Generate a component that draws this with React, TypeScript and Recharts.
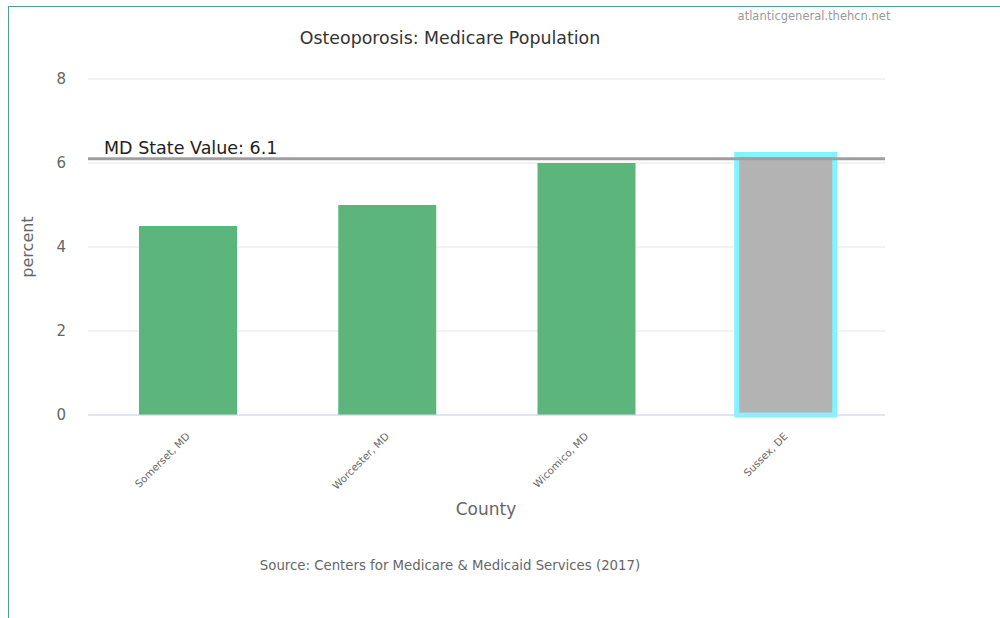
import React from 'react';
import { BarChart, Bar, XAxis, YAxis, CartesianGrid, ReferenceLine, Cell } from 'recharts';

const counties = ['Somerset, MD', 'Worcester, MD', 'Wicomico, MD', 'Sussex, DE'];
const percents = [4.5, 5.0, 6.0, 6.2];
const barFills = ['#5cb57a', '#5cb57a', '#5cb57a', '#b3b3b3'];
const barStrokes = ['none', 'none', 'none', '#80f4ff'];
const yTicks = [0, 2, 4, 6, 8];
const stateValue = 6.1;
const stateLabel = 'MD State Value: 6.1';

const data = counties.map((c, i) => ({ county: c, value: percents[i] }));

const FONT = '"DejaVu Sans", "Open Sans", sans-serif';

const XTick = (props: any) => {
  const { x, y, payload } = props;
  return (
    <g transform={`translate(${x + 3},${y + 22})`}>
      <text textAnchor="end" transform="rotate(-45)" fontSize={10.3} fill="#666" fontFamily={FONT}>
        {payload.value}
      </text>
    </g>
  );
};

export default function App() {
  return (
    <div style={{ position: 'absolute', left: 0, top: 0, width: 1000, height: 618, background: '#fff', fontFamily: FONT }}>
      <div style={{ position: 'absolute', left: 8, top: 6, width: 992, height: 612, borderTop: '1.5px solid #4f9a9a', borderLeft: '1.5px solid #4f9a9a' }} />
      <div style={{ position: 'absolute', left: 700, width: 228, top: 9, textAlign: 'center', fontSize: 11.5, color: '#999' }}>
        atlanticgeneral.thehcn.net
      </div>
      <div style={{ position: 'absolute', left: 250, width: 400, top: 28, textAlign: 'center', fontSize: 17.4, color: '#333' }}>
        Osteoporosis: Medicare Population
      </div>
      <div style={{ position: 'absolute', left: 286, width: 400, top: 499, textAlign: 'center', fontSize: 17, color: '#666' }}>
        County
      </div>
      <div style={{ position: 'absolute', left: 200, width: 500, top: 558, textAlign: 'center', fontSize: 13.3, color: '#666' }}>
        Source: Centers for Medicare &amp; Medicaid Services (2017)
      </div>
      <div style={{ position: 'absolute', left: 0, top: 0 }}>
        <BarChart width={1000} height={618} data={data} margin={{ top: 79, right: 115, bottom: 103, left: 8 }}>
          <CartesianGrid vertical={false} stroke="#e6e6e6" />
          <XAxis
            dataKey="county"
            height={100}
            tickLine={false}
            axisLine={{ stroke: '#ccd6eb' }}
            tickSize={0}
            tickMargin={0}
            interval={0}
            tick={<XTick />}
          />
          <YAxis
            width={80}
            domain={[0, 8]}
            ticks={yTicks}
            axisLine={false}
            tickLine={false}
            tickSize={0}
            tickMargin={22}
            tick={{ fill: '#666', fontSize: 15, fontFamily: FONT }}
            label={{
              content: (p: any) => {
                const vb = p.viewBox;
                const cx = vb.x + 19;
                const cy = vb.y + vb.height / 2;
                return (
                  <text x={cx} y={cy} transform={`rotate(-90,${cx},${cy})`} textAnchor="middle" dominantBaseline="central" fontSize={16} fill="#666" fontFamily={FONT}>
                    percent
                  </text>
                );
              },
            }}
          />
          <Bar dataKey="value" barSize={98} isAnimationActive={false}>
            {data.map((d, i) => (
              <Cell key={d.county} fill={barFills[i]} stroke={barStrokes[i]} strokeWidth={barStrokes[i] === 'none' ? 0 : 5} />
            ))}
          </Bar>
          <ReferenceLine
            y={stateValue}
            stroke="#9f9f9f"
            strokeWidth={3}
            label={{
              content: (p: any) => {
                const vb = p.viewBox;
                return (
                  <text x={vb.x + 16} y={vb.y - 5} fontSize={17.5} fill="#222" fontFamily={FONT}>
                    {stateLabel}
                  </text>
                );
              },
            }}
          />
        </BarChart>
      </div>
    </div>
  );
}
